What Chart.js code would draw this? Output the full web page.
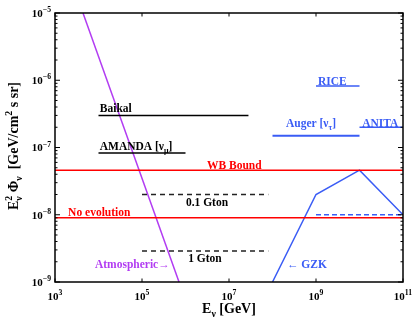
<!DOCTYPE html>
<html><head><meta charset="utf-8">
<script src="https://cdn.jsdelivr.net/npm/chart.js@4"></script>
<style>html,body{margin:0;padding:0;background:#fff}#wrap{width:415px;height:324px}</style>
</head><body><div id="wrap"><canvas id="c" width="415" height="324"></canvas></div>
<script>
// ---- data (energy in GeV, flux E^2 Phi in GeV/cm^2 s sr) ----
const xTickExps = [3, 5, 7, 9, 11];
const yTickExps = [-9, -8, -7, -6, -5];

const atmosE = [4.4e3, 7.1e5];
const atmosFlux = [1e-5, 1e-9];
const baikalE = [1e4, 2.8e7];
const baikalFlux = [3.0e-7, 3.0e-7];
const amandaE = [1e4, 1e6];
const amandaFlux = [8.3e-8, 8.3e-8];
const wbE = [1e3, 1e11];
const wbFlux = [4.6e-8, 4.6e-8];
const noEvoE = [1e3, 1e11];
const noEvoFlux = [9.0e-9, 9.0e-9];
const gton01E = [1e5, 8e7];
const gton01Flux = [2.0e-8, 2.0e-8];
const gton1E = [1e5, 8e7];
const gton1Flux = [2.9e-9, 2.9e-9];
const gzkE = [1e8, 1e9, 1e10, 1e11];
const gzkFlux = [1e-9, 2.0e-8, 4.6e-8, 1.0e-8];
const gzkDashE = [1e9, 1e11];
const gzkDashFlux = [1.0e-8, 1.0e-8];
const riceE = [1e9, 1e10];
const riceFlux = [8.2e-7, 8.2e-7];
const augerE = [1e8, 1e10];
const augerFlux = [1.5e-7, 1.5e-7];
const anitaE = [1e10, 1e11];
const anitaFlux = [2.0e-7, 2.0e-7];

const PURPLE = '#b23cf2', BLUE = '#3a5cf5', RED = '#ff0000', BLACK = '#000000';

// text annotations anchored in data coordinates
const notes = [
  {segs:[{t:'Baikal'}], x:1.07e4, y:3.37e-7, color:BLACK, align:'left'},
  {segs:[{t:'AMANDA [ν'},{sub:'μ'},{t:']'}], x:1.07e4, y:9.2e-8, color:BLACK, align:'left'},
  {segs:[{t:'WB Bound'}], x:3.12e6, y:4.85e-8, color:RED, align:'left'},
  {segs:[{t:'No evolution'}], x:2.0e3, y:9.6e-9, color:RED, align:'left'},
  {segs:[{t:'0.1 Gton'}], x:3.12e6, y:1.35e-8, color:BLACK, align:'center'},
  {segs:[{t:'1 Gton'}], x:2.8e6, y:1.95e-9, color:BLACK, align:'center'},
  {segs:[{t:'Atmospheric→'}], x:8.3e3, y:1.6e-9, color:PURPLE, align:'left'},
  {segs:[{t:'← GZK'}], x:2.15e8, y:1.6e-9, color:BLUE, align:'left'},
  {segs:[{t:'RICE'}], x:1.11e9, y:8.6e-7, color:BLUE, align:'left'},
  {segs:[{t:'Auger [ν'},{sub:'τ'},{t:']'}], x:2.04e8, y:2.02e-7, color:BLUE, align:'left'},
  {segs:[{t:'ANITA'}], x:1.15e10, y:2.02e-7, color:BLUE, align:'left'}
];

function pts(xs, ys){ return xs.map((v,i)=>({x:v, y:ys[i]})); }
function ds(xs, ys, color, width, dash){
  return {data:pts(xs,ys), showLine:true, borderColor:color, backgroundColor:color,
    borderWidth:width, pointRadius:0, borderDash:dash||[], tension:0, fill:false};
}

const SERIF = '"Liberation Serif","Times New Roman",serif';
function font(size){ return 'bold ' + size + 'px ' + SERIF; }
function richWidth(ctx, segs, size){
  let w = 0;
  segs.forEach(s=>{
    if (s.t !== undefined){ ctx.font = font(size); w += ctx.measureText(s.t).width; }
    else { ctx.font = font(size*0.7);
      w += Math.max(s.sub?ctx.measureText(s.sub).width:0, s.sup?ctx.measureText(s.sup).width:0); }
  });
  return w;
}
function drawRich(ctx, segs, x, y, size, align){
  const w = richWidth(ctx, segs, size);
  let cx = align==='center' ? x - w/2 : align==='right' ? x - w : x;
  ctx.textAlign = 'left'; ctx.textBaseline = 'alphabetic';
  segs.forEach(s=>{
    if (s.t !== undefined){ ctx.font = font(size); ctx.fillText(s.t, cx, y); cx += ctx.measureText(s.t).width; }
    else {
      ctx.font = font(size*0.7);
      let ww = 0;
      if (s.sub){ ctx.fillText(s.sub, cx, y + size*0.3); ww = Math.max(ww, ctx.measureText(s.sub).width); }
      if (s.sup){ ctx.fillText(s.sup, cx, y - size*0.42); ww = Math.max(ww, ctx.measureText(s.sup).width); }
      cx += ww;
    }
  });
}

const overlay = {
  id:'overlay',
  afterDatasetsDraw(chart){
    const ctx = chart.ctx, a = chart.chartArea, xs = chart.scales.x, ys = chart.scales.y;
    ctx.save();
    // annotations
    notes.forEach(n=>{
      ctx.fillStyle = n.color;
      drawRich(ctx, n.segs, xs.getPixelForValue(n.x), ys.getPixelForValue(n.y), 11.5, n.align);
    });
    // frame
    ctx.strokeStyle = '#000'; ctx.lineWidth = 1.5;
    ctx.strokeRect(a.left, a.top, a.right - a.left, a.bottom - a.top);
    ctx.lineWidth = 1;
    const seg = (x1,y1,x2,y2)=>{ctx.beginPath();ctx.moveTo(x1,y1);ctx.lineTo(x2,y2);ctx.stroke();};
    // x ticks + labels
    ctx.fillStyle = '#000';
    xTickExps.forEach(e=>{
      const px = xs.getPixelForValue(Math.pow(10,e));
      seg(px, a.bottom, px, a.bottom - 3.5);
      seg(px, a.top, px, a.top + 3.5);
      drawRich(ctx, [{t:'10'},{sup:String(e)}], px, 300, 11, 'center');
    });
    // y ticks (major and minor) + labels
    for (let e = yTickExps[0]; e < yTickExps[yTickExps.length-1]; e++){
      for (let m = 2; m <= 9; m++){
        const py = ys.getPixelForValue(m*Math.pow(10,e));
        seg(a.left, py, a.left + 2.5, py);
        seg(a.right, py, a.right - 2.5, py);
      }
    }
    yTickExps.forEach(e=>{
      const py = ys.getPixelForValue(Math.pow(10,e));
      seg(a.left, py, a.left + 5, py);
      seg(a.right, py, a.right - 5, py);
      drawRich(ctx, [{t:'10'},{sup:'\u2212'+String(-e)}], 51, py + 3.8, 11, 'right');
    });
    // axis titles
    drawRich(ctx, [{t:'E'},{sub:'ν'},{t:' [GeV]'}], (a.left+a.right)/2, 313, 14, 'center');
    ctx.translate(18, 146);
    ctx.rotate(-Math.PI/2);
    drawRich(ctx, [{t:'E'},{sub:'ν',sup:'2'},{t:' Φ'},{sub:'ν'},{t:'  [GeV/cm'},{sup:'2'},{t:' s sr]'}], 0, 0, 14, 'center');
    ctx.restore();
  }
};

new Chart(document.getElementById('c').getContext('2d'), {
  type:'scatter',
  data:{datasets:[
    ds(wbE, wbFlux, RED, 1.5),
    ds(noEvoE, noEvoFlux, RED, 1.5),
    ds(baikalE, baikalFlux, BLACK, 1.5),
    ds(amandaE, amandaFlux, BLACK, 1.5),
    ds(gton01E, gton01Flux, '#222', 1.5, [5,4]),
    ds(gton1E, gton1Flux, '#222', 1.5, [5,4]),
    ds(gzkE, gzkFlux, BLUE, 1.5),
    ds(gzkDashE, gzkDashFlux, BLUE, 1.5, [5,3]),
    ds(riceE, riceFlux, BLUE, 1.5),
    ds(augerE, augerFlux, BLUE, 2),
    ds(anitaE, anitaFlux, BLUE, 1.5),
    ds(atmosE, atmosFlux, PURPLE, 1.5)
  ]},
  options:{
    responsive:false, animation:false, devicePixelRatio:1,
    layout:{padding:{left:55, right:12, top:13, bottom:42}},
    plugins:{legend:{display:false}, tooltip:{enabled:false}},
    scales:{
      x:{type:'logarithmic', min:1e3, max:1e11, display:false},
      y:{type:'logarithmic', min:1e-9, max:1e-5, display:false}
    }
  },
  plugins:[overlay]
});
</script>
</body></html>
